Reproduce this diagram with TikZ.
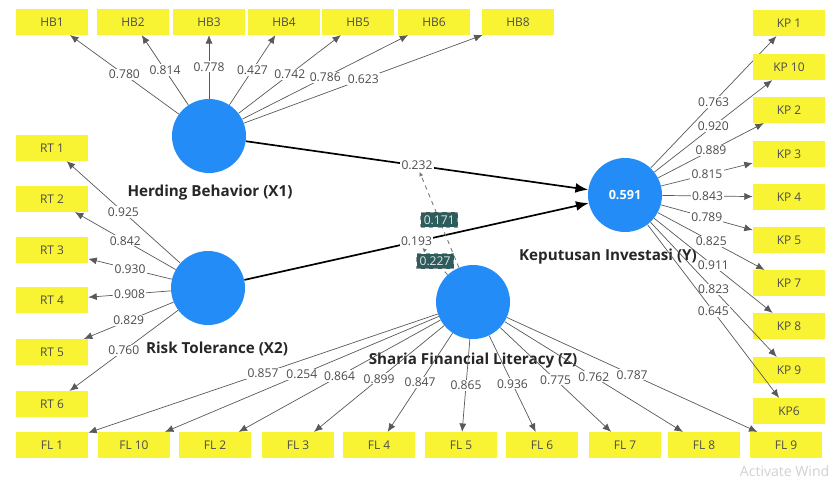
\documentclass[tikz,border=0pt]{standalone}
\usepackage{fontspec}
\setmainfont{Open Sans}
\usetikzlibrary{arrows.meta}
\definecolor{indyellow}{RGB}{248,244,52}
\definecolor{latblue}{RGB}{36,140,246}
\definecolor{modteal}{RGB}{44,92,92}
\begin{document}
\begin{tikzpicture}[x=0.025cm, y=-0.025cm, every node/.style={font=\fontsize{8.6}{9}\selectfont},
  ind/.style={fill=indyellow, minimum width=1.8cm, minimum height=0.64cm, inner sep=1pt, text=black!70, font=\fontsize{8.5}{9}\selectfont},
  lat/.style={circle, fill=latblue, minimum size=1.85cm, inner sep=0pt},
  latname/.style={font=\fontsize{10.8}{12}\selectfont\bfseries, text=black!85},
  load/.style={draw=black!65, line width=0.5pt, -{Latex[length=6pt,width=5pt]}},
  lbl/.style={midway, fill=white, inner sep=0.8pt, text=black!70},
  struct/.style={draw=black, line width=1.2pt, -{Latex[length=9pt,width=7pt]}},
  modline/.style={draw=black!55, dashed, line width=0.6pt, -{Latex[length=3pt,width=3pt]}},
  modbox/.style={midway, fill=modteal, draw=black!40, text=white!90!black, inner sep=2.2pt}]
\useasboundingbox (0,0) rectangle (832,479);
\node[lat] (hb) at (209,136) {};
\node[lat] (rt) at (208,288) {};
\node[lat] (kp) at (625,195) {\color{white}\bfseries\fontsize{9}{10}\selectfont 0.591};
\node[lat] (fl) at (473,302) {};
\node[latname] (hbname) at (210,193) {Herding Behavior (X1)};
\node[latname] (rtname) at (217,349) {Risk Tolerance (X2)};
\node[latname] (kpname) at (608,257) {Keputusan Investasi (Y)};
\node[latname] (flname) at (473,361) {Sharia Financial Literacy (Z)};
\foreach \x/\n/\v in {52/HB1/0.780,133/HB2/0.814,209/HB3/0.778,284/HB4/0.427,358/HB5/0.742,434/HB6/0.786,518/HB8/0.623} {
  \node[ind] (\n) at (\x,22) {\n};
  \draw[load] (hb) -- (\n) node[lbl] {\v};
}
\foreach \y/\n/\v in {148/1/0.925,199/2/0.842,250/3/0.930,300/4/0.908,352/5/0.829,404/6/0.760} {
  \node[ind] (rt\n) at (52,\y) {RT \n};
  \draw[load] (rt) -- (rt\n) node[lbl] {\v};
}
\foreach \y/\n/\lab/\v in {23/1/KP 1/0.763,67/10/KP 10/0.920,110/2/KP 2/0.889,154/3/KP 3/0.815,197/4/KP 4/0.843,240/5/KP 5/0.789,283/7/KP 7/0.825,326/8/KP 8/0.911,370/9/KP 9/0.823,411/6/KP6/0.645} {
  \node[ind] (kp\n) at (789,\y) {\lab};
  \draw[load] (kp) -- (kp\n) node[lbl] {\v};
}
\foreach \x/\n/\v in {52/1/0.857,134/10/0.254,215/2/0.864,298/3/0.899,379/4/0.847,461/5/0.865,542/6/0.936,625/7/0.775,704/8/0.762,786/9/0.787} {
  \node[ind] (fl\n) at (\x,445) {FL \n};
  \draw[load] (fl) -- (fl\n) node[lbl] {\v};
}
\draw[struct] (hb) -- (kp) node[lbl] (p1) {0.232};
\draw[struct] (rt) -- (kp) node[lbl] (p2) {0.193};
\draw[modline] (fl) -- (p1) node[modbox] {0.171};
\draw[modline] (fl) -- (p2) node[modbox] {0.227};
\node[text=black!18, anchor=west, font=\fontsize{10}{11}\selectfont] (watermark) at (735,471) {Activate Wind};
\end{tikzpicture}
\end{document}
